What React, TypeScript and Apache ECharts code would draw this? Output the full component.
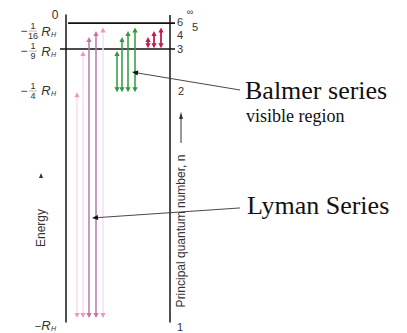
import React, { useEffect, useRef } from "react";
import * as echarts from "echarts";

// ---- data (x in diagram columns, depth: 0 = energy 0, 100 = -R_H, schematic scale) ----
const levelN = [1, 2, 3, 4, 5, 6];
const levelDepth = [100, 25.7, 12.2, 7.6, 5.6, 4.4];

const levelLineDepth = [3.0, 11.5];
const levelLineFrom = [68, 60];
const levelLineTo = [175, 175];

const frameX = [66, 170];
const frameTop = [0.2, 0.3];
const frameBottom = [101.5, 101.5];

const lymanX = [77, 83, 89, 96, 103];
const lymanUpper = [2, 3, 4, 5, 6];
const lymanStrong = [0, 0, 1, 1, 0];

const balmerX = [117, 122, 128, 135];
const balmerUpper = [3, 4, 5, 6];

const paschenX = [148, 154, 161];
const paschenUpper = [4, 5, 6];

const energyDen = [0, 16, 9, 4, 1];
const energyLabelDepth = [0.2, 5.6, 12.2, 25.3, 102.6];

const nLabels = ["\u221e", "6", "5", "4", "3", "2", "1"];
const nLabelDepth = [-0.6, 2.5, 4.3, 7.0, 11.5, 25.3, 103];

const annotFromX = [240, 240];
const annotFromDepth = [25.0, 63.8];
const annotToX = [132, 92];
const annotToDepth = [19.1, 67.1];

const depthOf = (n: number) => levelDepth[levelN.indexOf(n)];

const SANS = "'Liberation Sans', Arial, sans-serif";
const SERIF = "'Liberation Serif', 'Times New Roman', serif";

const kindStyles = [
  { line: "#f9e0ed", head: "#ec97c6", w: 1.6 },
  { line: "#b47b9c", head: "#d66aa6", w: 1.5 },
  { line: "#2e9a3c", head: "#2e9a3c", w: 1.5 },
  { line: "#c4184f", head: "#c4184f", w: 1.8 },
];

export default function App() {
  const ref = useRef<HTMLDivElement>(null);
  useEffect(() => {
    const chart = echarts.init(ref.current!, null, { renderer: "svg" });

    const transitions: number[][] = [];
    lymanX.forEach((x, i) =>
      transitions.push([x, depthOf(lymanUpper[i]), depthOf(1), lymanStrong[i] ? 1 : 0])
    );
    balmerX.forEach((x, i) => transitions.push([x, depthOf(balmerUpper[i]), depthOf(2), 2]));
    paschenX.forEach((x, i) => transitions.push([x, depthOf(paschenUpper[i]), 11.3, 3]));

    const nLabelX = [190, 180, 195, 180, 180, 181, 180];

    const option: any = {
      animation: false,
      backgroundColor: "#ffffff",
      grid: { left: 0, right: 0, top: 14, bottom: 15 },
      xAxis: { type: "value", min: 0, max: 407, show: false },
      yAxis: { type: "value", min: 0, max: 100, inverse: true, show: false },
      series: [
        {
          type: "custom",
          name: "frame",
          data: frameX.map((x, i) => [x, frameTop[i], frameBottom[i]]),
          renderItem: (p: any, api: any) => {
            const a = api.coord([api.value(0), api.value(1)]);
            const b = api.coord([api.value(0), api.value(2)]);
            return {
              type: "line",
              shape: { x1: a[0], y1: a[1], x2: b[0], y2: b[1] },
              style: { stroke: "#3c3c3c", lineWidth: 1.8 },
            };
          },
        },
        {
          type: "custom",
          name: "levels",
          data: levelLineDepth.map((d, i) => [levelLineFrom[i], levelLineTo[i], d]),
          renderItem: (p: any, api: any) => {
            const a = api.coord([api.value(0), api.value(2)]);
            const b = api.coord([api.value(1), api.value(2)]);
            return {
              type: "line",
              shape: { x1: a[0], y1: a[1], x2: b[0], y2: b[1] },
              style: { stroke: "#111", lineWidth: 1.6 },
            };
          },
        },
        {
          type: "custom",
          name: "transitions",
          data: transitions,
          renderItem: (p: any, api: any) => {
            const x = api.value(0);
            const st = kindStyles[api.value(3)];
            const t = api.coord([x, api.value(1)]);
            const b = api.coord([x, api.value(2)]);
            const hl = 5,
              hw = 2.6;
            return {
              type: "group",
              children: [
                {
                  type: "line",
                  shape: { x1: t[0], y1: t[1] + 3, x2: b[0], y2: b[1] - 3 },
                  style: { stroke: st.line, lineWidth: st.w },
                },
                {
                  type: "polygon",
                  shape: { points: [[t[0], t[1]], [t[0] - hw, t[1] + hl], [t[0] + hw, t[1] + hl]] },
                  style: { fill: st.head },
                },
                {
                  type: "polygon",
                  shape: { points: [[b[0], b[1]], [b[0] - hw, b[1] - hl], [b[0] + hw, b[1] - hl]] },
                  style: { fill: st.head },
                },
              ],
            };
          },
        },
        {
          type: "custom",
          name: "energyLabels",
          data: energyDen.map((d, i) => [57, energyLabelDepth[i], d]),
          renderItem: (p: any, api: any) => {
            const c = api.coord([api.value(0), api.value(1)]);
            const den = api.value(2);
            const ax = c[0],
              ay = c[1];
            const col = "#333";
            const txt = (text: string, x: number, y: number, size: number, italic = false) => ({
              type: "text",
              style: {
                text,
                x,
                y,
                fill: col,
                font: `${italic ? "italic " : ""}${size}px ${SANS}`,
                textAlign: "center",
                textVerticalAlign: "middle",
              },
            });
            if (den === 0) return { type: "group", children: [txt("0", ax - 2, ay, 12)] };
            const rh = [txt("R", ax - 11, ay, 13, true), txt("H", ax - 3.5, ay + 3, 7, true)];
            if (den === 1)
              return { type: "group", children: [txt("\u2212", ax - 19, ay, 11), ...rh] };
            return {
              type: "group",
              children: [
                txt("\u2212", ax - 33, ay, 12),
                txt("1", ax - 24, ay - 5, 9),
                {
                  type: "line",
                  shape: { x1: ax - 28, y1: ay, x2: ax - 20, y2: ay },
                  style: { stroke: "#888", lineWidth: 0.6 },
                },
                txt(String(den), ax - 24, ay + 5, 9),
                ...rh,
              ],
            };
          },
        },
        {
          type: "custom",
          name: "nLabels",
          data: nLabels.map((s, i) => [nLabelX[i], nLabelDepth[i], i]),
          renderItem: (p: any, api: any) => {
            const c = api.coord([api.value(0), api.value(1)]);
            const i = api.value(2);
            return {
              type: "text",
              style: {
                text: nLabels[i],
                x: c[0],
                y: c[1],
                fill: "#333",
                font: `${i === 0 ? 9 : 11}px ${SANS}`,
                textAlign: "center",
                textVerticalAlign: "middle",
              },
            };
          },
        },
        {
          type: "custom",
          name: "annotations",
          data: annotFromX.map((x, i) => [x, annotFromDepth[i], annotToX[i], annotToDepth[i]]),
          renderItem: (p: any, api: any) => {
            const a = api.coord([api.value(0), api.value(1)]);
            const b = api.coord([api.value(2), api.value(3)]);
            const ang = Math.atan2(b[1] - a[1], b[0] - a[0]);
            const hl = 6,
              hw = 2.5;
            const bx = b[0] - Math.cos(ang) * hl,
              by = b[1] - Math.sin(ang) * hl;
            const nx = -Math.sin(ang) * hw,
              ny = Math.cos(ang) * hw;
            return {
              type: "group",
              children: [
                {
                  type: "line",
                  shape: { x1: a[0], y1: a[1], x2: bx, y2: by },
                  style: { stroke: "#333", lineWidth: 0.9 },
                },
                {
                  type: "polygon",
                  shape: { points: [[b[0], b[1]], [bx + nx, by + ny], [bx - nx, by - ny]] },
                  style: { fill: "#111" },
                },
              ],
            };
          },
        },
      ],
      graphic: [
        {
          type: "text",
          left: 245,
          top: 77,
          style: { text: "Balmer series", fill: "#111", font: `26px ${SERIF}`, lineHeight: 26 },
        },
        {
          type: "text",
          left: 246,
          top: 107,
          style: { text: "visible region", fill: "#111", font: `18px ${SERIF}`, lineHeight: 18 },
        },
        {
          type: "text",
          left: 247,
          top: 192,
          style: { text: "Lyman Series", fill: "#111", font: `26px ${SERIF}` },
        },
        {
          type: "text",
          x: 41,
          y: 228,
          rotation: Math.PI / 2,
          style: {
            text: "Energy",
            fill: "#333",
            font: `12px ${SANS}`,
            textAlign: "center",
            textVerticalAlign: "middle",
          },
        },
        {
          type: "polygon",
          shape: { points: [[41, 173], [39, 178], [43, 178]] },
          style: { fill: "#333" },
        },
        {
          type: "text",
          x: 181,
          y: 231,
          rotation: Math.PI / 2,
          style: {
            text: "Principal quantum number, n",
            fill: "#333",
            font: `12px ${SANS}`,
            textAlign: "center",
            textVerticalAlign: "middle",
          },
        },
        {
          type: "line",
          shape: { x1: 181, y1: 143, x2: 181, y2: 118 },
          style: { stroke: "#333", lineWidth: 1 },
        },
        {
          type: "polygon",
          shape: { points: [[181, 112], [179, 119], [183, 119]] },
          style: { fill: "#333" },
        },
      ],
    };
    chart.setOption(option);
    return () => chart.dispose();
  }, []);
  return (
    <div
      ref={ref}
      style={{ position: "fixed", left: 0, top: 0, width: 407, height: 333, background: "#fff" }}
    />
  );
}
